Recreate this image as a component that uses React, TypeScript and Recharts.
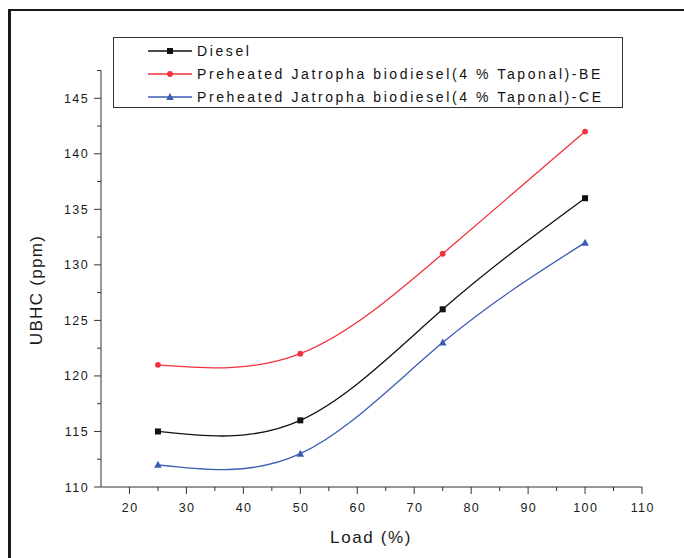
import React from 'react';
import { LineChart, Line, XAxis, YAxis } from 'recharts';

const loads = [25, 50, 75, 100];
const diesel = [115, 116, 126, 136];
const jatrophaBE = [121, 122, 131, 142];
const jatrophaCE = [112, 113, 123, 132];
const seriesNames = [
  'Diesel',
  'Preheated Jatropha biodiesel(4 % Taponal)-BE',
  'Preheated Jatropha biodiesel(4 % Taponal)-CE',
];
const seriesKeys = ['diesel', 'be', 'ce'];
const seriesColors = ['#111111', '#f2323c', '#3d5db3'];
const xTicks = [20, 25, 30, 35, 40, 45, 50, 55, 60, 65, 70, 75, 80, 85, 90, 95, 100, 105, 110];
const yTicks = [110, 112.5, 115, 117.5, 120, 122.5, 125, 127.5, 130, 132.5, 135, 137.5, 140, 142.5, 145, 147.5];
const xLabel = 'Load (%)';
const yLabel = 'UBHC (ppm)';

const data = loads.map((l, i) => ({ load: l, diesel: diesel[i], be: jatrophaBE[i], ce: jatrophaCE[i] }));

const FONT = '"Liberation Sans", Arial, sans-serif';
const AXIS = '#333333';

const YTick = (props: any) => {
  const { x, y, payload } = props;
  const v = payload.value;
  const major = v % 5 === 0;
  return (
    <g>
      <line x1={x} x2={x - (major ? 7 : 4)} y1={y} y2={y} stroke={AXIS} strokeWidth={1} />
      {major && (
        <text x={x - 12} y={y} dy="0.36em" textAnchor="end" fontSize={12.5} letterSpacing={1.4} fill="#1a1a1a" fontFamily={FONT}>
          {v}
        </text>
      )}
    </g>
  );
};

const XTick = (props: any) => {
  const { x, y, payload } = props;
  const v = payload.value;
  const major = v % 10 === 0;
  return (
    <g>
      <line x1={x} x2={x} y1={y} y2={y + (major ? 7 : 4)} stroke={AXIS} strokeWidth={1} />
      {major && (
        <text x={x + 0.7} y={y + 20} dy="0.36em" textAnchor="middle" fontSize={12.5} letterSpacing={1.4} fill="#1a1a1a" fontFamily={FONT}>
          {v}
        </text>
      )}
    </g>
  );
};

const Marker = ({ kind, cx, cy, color }: { kind: number; cx: number; cy: number; color: string }) => {
  if (kind === 0) return <rect x={cx - 3} y={cy - 3} width={6} height={6} fill={color} />;
  if (kind === 1) return <circle cx={cx} cy={cy} r={2.9} fill={color} />;
  return <polygon points={`${cx},${cy - 4} ${cx - 3.8},${cy + 3} ${cx + 3.8},${cy + 3}`} fill={color} />;
};

const makeDot = (kind: number, color: string) => (props: any) => {
  const { cx, cy, index } = props;
  if (cx == null || cy == null) return <g key={index} />;
  return <Marker key={index} kind={kind} cx={cx} cy={cy} color={color} />;
};

export default function App() {
  return (
    <div style={{ position: 'absolute', left: 0, top: 0, width: 684, height: 558, overflow: 'hidden', background: '#fff' }}>
      <div
        style={{
          position: 'absolute',
          left: 8,
          top: 9,
          width: 676,
          height: 549,
          borderLeft: '3px solid #1a1a1a',
          borderTop: '2.5px solid #1a1a1a',
          boxSizing: 'border-box',
        }}
      />
      <div style={{ position: 'absolute', left: 0, top: 0 }}>
        <LineChart width={684} height={558} data={data} margin={{ top: 70.5, right: 42, bottom: 41, left: 41 }}>
          <XAxis
            dataKey="load"
            type="number"
            domain={[15, 110]}
            ticks={xTicks}
            interval={0}
            tickSize={0}
            tickMargin={0}
            tickLine={false}
            height={30}
            axisLine={{ stroke: AXIS, strokeWidth: 1 }}
            tick={<XTick />}
          />
          <YAxis
            type="number"
            domain={[110, 147.5]}
            ticks={yTicks}
            interval={0}
            tickSize={0}
            tickMargin={0}
            tickLine={false}
            width={60}
            axisLine={{ stroke: AXIS, strokeWidth: 1 }}
            tick={<YTick />}
          />
          {seriesKeys.map((k, i) => (
            <Line
              key={k}
              dataKey={k}
              name={seriesNames[i]}
              type="natural"
              stroke={seriesColors[i]}
              strokeWidth={1.3}
              dot={makeDot(i, seriesColors[i])}
              activeDot={false}
              isAnimationActive={false}
            />
          ))}
        </LineChart>
      </div>
      <div
        style={{
          position: 'absolute',
          left: 371,
          top: 538,
          transform: 'translate(-50%, -50%)',
          fontFamily: FONT,
          fontSize: 17,
          letterSpacing: 1.6,
          color: '#1a1a1a',
          whiteSpace: 'nowrap',
        }}
      >
        {xLabel}
      </div>
      <div
        style={{
          position: 'absolute',
          left: 37,
          top: 290,
          transform: 'translate(-50%, -50%) rotate(-90deg)',
          fontFamily: FONT,
          fontSize: 17,
          letterSpacing: 1.3,
          color: '#1a1a1a',
          whiteSpace: 'nowrap',
        }}
      >
        {yLabel}
      </div>
      <div
        style={{
          position: 'absolute',
          left: 113,
          top: 37,
          width: 510,
          height: 71,
          border: '1.5px solid #333',
          boxSizing: 'border-box',
          background: '#fff',
        }}
      >
        {seriesNames.map((n, i) => {
          const cy = 12.5 + i * 23;
          return (
            <React.Fragment key={n}>
              <svg width={44} height={12} style={{ position: 'absolute', left: 34, top: cy - 6, overflow: 'visible' }}>
                <line x1={0} x2={44} y1={6} y2={6} stroke={seriesColors[i]} strokeWidth={1.3} />
                <Marker kind={i} cx={22} cy={6} color={seriesColors[i]} />
              </svg>
              <div
                style={{
                  position: 'absolute',
                  left: 83,
                  top: cy - 9,
                  height: 18,
                  lineHeight: '18px',
                  fontFamily: FONT,
                  fontSize: 14,
                  letterSpacing: 2.6,
                  color: '#111',
                  whiteSpace: 'nowrap',
                }}
              >
                {n}
              </div>
            </React.Fragment>
          );
        })}
      </div>
    </div>
  );
}
